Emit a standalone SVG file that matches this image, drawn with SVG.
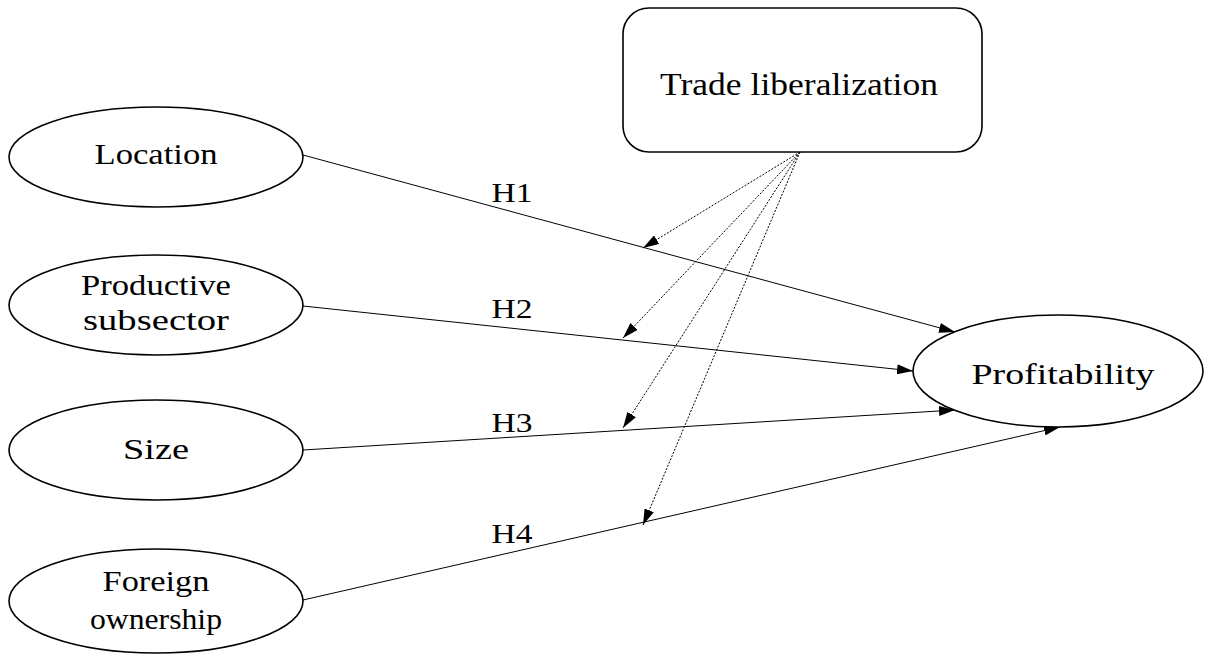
<svg xmlns="http://www.w3.org/2000/svg" width="1208" height="655" viewBox="0 0 1208 655">
<style>
.node{fill:#fff;stroke:#000;stroke-width:1.6}
.t{font-family:"Liberation Serif","Times New Roman",serif;font-size:29px;fill:#000;text-anchor:middle}
.h{font-size:28px}
.big{font-size:32px}
.e{fill:none;stroke:#000;stroke-width:1}
.d{fill:none;stroke:#000;stroke-width:1;stroke-dasharray:2,1.5}
</style>
<defs>
<marker id="ah" viewBox="0 0 16 10" refX="16" refY="5" markerWidth="16" markerHeight="10" markerUnits="userSpaceOnUse" orient="auto">
<path d="M0,0 L16,5 L0,10 Z" fill="#000"/>
</marker>
</defs>
<rect width="1208" height="655" fill="#fff"/>
<g id="connectors">
<line class="e" x1="303" y1="155" x2="955" y2="332" marker-end="url(#ah)"/>
<line class="e" x1="303" y1="306" x2="913" y2="371" marker-end="url(#ah)"/>
<line class="e" x1="303" y1="450" x2="955" y2="410" marker-end="url(#ah)"/>
<line class="e" x1="303" y1="600" x2="1060" y2="427" marker-end="url(#ah)"/>
<line class="d" x1="800" y1="152" x2="643" y2="248" marker-end="url(#ah)"/>
<line class="d" x1="800" y1="152" x2="623" y2="338" marker-end="url(#ah)"/>
<line class="d" x1="800" y1="152" x2="623" y2="428" marker-end="url(#ah)"/>
<line class="d" x1="800" y1="152" x2="643" y2="525" marker-end="url(#ah)"/>
<text class="t h" x="512" y="202" textLength="41" lengthAdjust="spacingAndGlyphs">H1</text>
<text class="t h" x="512" y="318" textLength="41" lengthAdjust="spacingAndGlyphs">H2</text>
<text class="t h" x="512" y="432" textLength="41" lengthAdjust="spacingAndGlyphs">H3</text>
<text class="t h" x="512" y="543" textLength="41" lengthAdjust="spacingAndGlyphs">H4</text>
</g>
<g id="trade">
<rect class="node" x="623" y="8" width="359" height="144" rx="26" ry="26"/>
<text class="t big" x="799" y="95" textLength="278" lengthAdjust="spacingAndGlyphs">Trade liberalization</text>
</g>
<g id="location">
<ellipse class="node" cx="156" cy="157" rx="147" ry="50"/>
<text class="t" x="156" y="164" textLength="123" lengthAdjust="spacingAndGlyphs">Location</text>
</g>
<g id="productive">
<ellipse class="node" cx="156" cy="305" rx="147" ry="50"/>
<text class="t" x="156" y="295" textLength="150" lengthAdjust="spacingAndGlyphs">Productive</text>
<text class="t" x="156" y="330" textLength="146" lengthAdjust="spacingAndGlyphs">subsector</text>
</g>
<g id="size">
<ellipse class="node" cx="156" cy="450" rx="147" ry="50"/>
<text class="t" x="156" y="459" textLength="66" lengthAdjust="spacingAndGlyphs">Size</text>
</g>
<g id="foreign">
<ellipse class="node" cx="156" cy="601" rx="147" ry="52"/>
<text class="t" x="156" y="591" textLength="107" lengthAdjust="spacingAndGlyphs">Foreign</text>
<text class="t" x="156" y="629" textLength="132" lengthAdjust="spacingAndGlyphs">ownership</text>
</g>
<g id="profitability">
<ellipse class="node" cx="1058" cy="371" rx="145" ry="56"/>
<text class="t" x="1063" y="384" textLength="183" lengthAdjust="spacingAndGlyphs">Profitability</text>
</g>
</svg>
